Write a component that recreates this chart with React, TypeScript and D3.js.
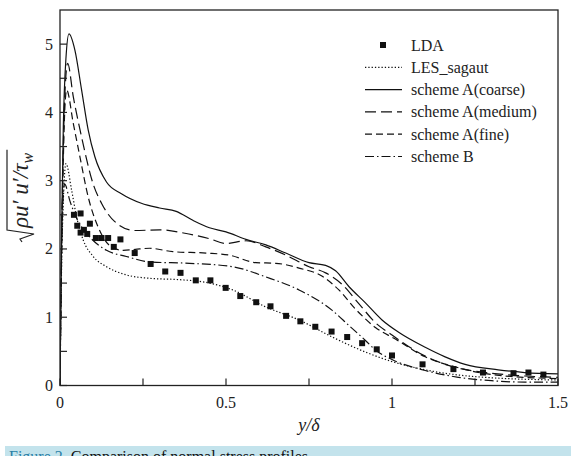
import React, { useEffect, useRef } from "react";
import * as d3 from "d3";

const W = 575;
const H = 456;

const ldaX = [0.042, 0.062, 0.052, 0.062, 0.072, 0.082, 0.09, 0.108, 0.125, 0.145, 0.182, 0.162, 0.225, 0.273, 0.317, 0.363, 0.409, 0.453, 0.499, 0.543, 0.591, 0.634, 0.681, 0.724, 0.769, 0.818, 0.865, 0.91, 0.954, 1.0, 1.092, 1.185, 1.274, 1.366, 1.411, 1.456];
const ldaY = [2.5, 2.52, 2.34, 2.24, 2.28, 2.22, 2.37, 2.16, 2.16, 2.16, 2.14, 2.03, 1.94, 1.78, 1.67, 1.65, 1.54, 1.54, 1.43, 1.31, 1.22, 1.16, 1.02, 0.94, 0.86, 0.79, 0.71, 0.62, 0.53, 0.44, 0.31, 0.24, 0.19, 0.18, 0.19, 0.16];

const lesX = [0, 0.004, 0.01, 0.018, 0.035, 0.05, 0.07, 0.1, 0.14, 0.2, 0.27, 0.36, 0.44, 0.52, 0.62, 0.72, 0.82, 0.92, 1.0, 1.1, 1.25, 1.5];
const lesY = [0, 1.5, 2.7, 3.25, 2.86, 2.47, 2.13, 1.89, 1.74, 1.62, 1.57, 1.55, 1.51, 1.4, 1.15, 0.96, 0.71, 0.49, 0.35, 0.23, 0.13, 0.08];

const coarseX = [0, 0.004, 0.01, 0.018, 0.027, 0.045, 0.065, 0.085, 0.105, 0.14, 0.185, 0.245, 0.3, 0.35, 0.4, 0.45, 0.5, 0.56, 0.62, 0.68, 0.75, 0.8, 0.83, 0.87, 0.92, 0.97, 1.02, 1.1, 1.16, 1.22, 1.32, 1.4, 1.5];
const coarseY = [0, 2.0, 3.8, 4.8, 5.15, 4.91, 4.33, 3.74, 3.35, 2.98, 2.81, 2.67, 2.6, 2.55, 2.42, 2.31, 2.25, 2.14, 2.06, 1.94, 1.8, 1.76, 1.68, 1.45, 1.21, 0.96, 0.78, 0.56, 0.42, 0.31, 0.23, 0.19, 0.17];

const mediumX = [0, 0.004, 0.01, 0.016, 0.023, 0.04, 0.065, 0.1, 0.125, 0.165, 0.225, 0.3, 0.376, 0.45, 0.5, 0.56, 0.62, 0.68, 0.75, 0.8, 0.85, 0.9, 0.95, 1.0, 1.05, 1.1, 1.18, 1.3, 1.5];
const mediumY = [0, 1.8, 3.5, 4.4, 4.72, 4.23, 3.64, 2.95, 2.67, 2.4, 2.27, 2.28, 2.23, 2.15, 2.08, 2.12, 2.03, 1.91, 1.74, 1.65, 1.48, 1.2, 0.92, 0.74, 0.57, 0.43, 0.28, 0.18, 0.12];

const fineX = [0, 0.004, 0.01, 0.015, 0.02, 0.04, 0.06, 0.085, 0.115, 0.155, 0.19, 0.24, 0.27, 0.34, 0.44, 0.51, 0.59, 0.65, 0.72, 0.79, 0.84, 0.89, 0.95, 1.01, 1.1, 1.2, 1.3, 1.5];
const fineY = [0, 1.7, 3.3, 4.1, 4.33, 3.84, 3.35, 2.76, 2.32, 2.03, 1.98, 2.0, 2.01, 1.96, 1.94, 1.91, 1.8, 1.79, 1.72, 1.6, 1.4, 1.12, 0.85, 0.68, 0.42, 0.26, 0.16, 0.1];

const schemeBX = [0, 0.004, 0.008, 0.014, 0.03, 0.05, 0.08, 0.14, 0.2, 0.27, 0.39, 0.52, 0.62, 0.72, 0.82, 0.87, 0.92, 0.95, 1.0, 1.1, 1.2, 1.3, 1.4, 1.5];
const schemeBY = [0, 1.6, 2.6, 2.95, 2.7, 2.45, 2.23, 1.98, 1.89, 1.81, 1.79, 1.74, 1.59, 1.4, 1.1, 0.88, 0.66, 0.52, 0.38, 0.22, 0.12, 0.07, 0.05, 0.05];

const xTicks = [0, 0.5, 1, 1.5];
const xTickLabels = ["0", "0.5", "1", "1.5"];
const xMinor = [0.25, 0.75, 1.25];
const yTicks = [0, 1, 2, 3, 4, 5];
const yMinor = [0.5, 1.5, 2.5, 3.5, 4.5];

const legendLabels = ["LDA", "LES_sagaut", "scheme A(coarse)", "scheme A(medium)", "scheme A(fine)", "scheme B"];

export default function App() {
  const ref = useRef<SVGSVGElement | null>(null);

  useEffect(() => {
    const svg = d3.select(ref.current);
    svg.selectAll("*").remove();

    const left = 60, right = 558, top = 10, bottom = 385.5;
    const x = d3.scaleLinear().domain([0, 1.5]).range([left, right]);
    const y = d3.scaleLinear().domain([0, 5.5]).range([bottom, top]);
    const font = "'Liberation Serif', 'Times New Roman', serif";

    svg.append("rect").attr("width", W).attr("height", H).attr("fill", "white");

    const clip = svg.append("defs").append("clipPath").attr("id", "clip");
    clip.append("rect").attr("x", left).attr("y", top).attr("width", right - left).attr("height", bottom - top);

    const series = [
      { xs: lesX, ys: lesY, dash: "1.3,2" },
      { xs: coarseX, ys: coarseY, dash: null },
      { xs: mediumX, ys: mediumY, dash: "11,5" },
      { xs: fineX, ys: fineY, dash: "7,4" },
      { xs: schemeBX, ys: schemeBY, dash: "9,3,1.5,3" },
    ];

    const line = d3.line<[number, number]>()
      .x((d) => x(d[0]))
      .y((d) => y(d[1]))
      .curve(d3.curveMonotoneX);

    const gLines = svg.append("g").attr("clip-path", "url(#clip)");
    series.forEach((s) => {
      const pts = s.xs.map((v, i) => [v, s.ys[i]] as [number, number]);
      gLines.append("path")
        .attr("d", line(pts))
        .attr("fill", "none")
        .attr("stroke", "#111")
        .attr("stroke-width", 1.2)
        .attr("stroke-dasharray", s.dash);
    });

    // LDA markers
    svg.append("g").selectAll("rect")
      .data(ldaX.map((v, i) => [v, ldaY[i]]))
      .enter().append("rect")
      .attr("x", (d) => x(d[0]) - 3)
      .attr("y", (d) => y(d[1]) - 3)
      .attr("width", 6).attr("height", 6)
      .attr("fill", "#111");

    // frame
    svg.append("rect")
      .attr("x", left).attr("y", top)
      .attr("width", right - left).attr("height", bottom - top)
      .attr("fill", "none").attr("stroke", "#222").attr("stroke-width", 1.3);

    // ticks
    const tickLen = 7;
    const tg = svg.append("g").attr("stroke", "#222").attr("stroke-width", 1.2);
    [...xTicks, ...xMinor].forEach((t) => {
      tg.append("line").attr("x1", x(t)).attr("x2", x(t)).attr("y1", bottom).attr("y2", bottom - tickLen);
    });
    [...yTicks, ...yMinor].forEach((t) => {
      tg.append("line").attr("x1", left).attr("x2", left + tickLen).attr("y1", y(t)).attr("y2", y(t));
    });

    xTicks.forEach((t, i) => {
      svg.append("text").attr("x", x(t)).attr("y", 408)
        .attr("text-anchor", "middle").attr("font-family", font).attr("font-size", 16)
        .attr("fill", "#222").text(xTickLabels[i]);
    });
    yTicks.forEach((t) => {
      svg.append("text").attr("x", 53).attr("y", y(t) + 5.5)
        .attr("text-anchor", "end").attr("font-family", font).attr("font-size", 16)
        .attr("fill", "#222").text(String(t));
    });

    // x label
    svg.append("text").attr("x", (left + right) / 2).attr("y", 431)
      .attr("text-anchor", "middle").attr("font-family", font).attr("font-size", 18)
      .attr("font-style", "italic").attr("fill", "#222").text("y/δ");

    // y label: sqrt(ρu'u')/τ_w rotated
    const yl = svg.append("g").attr("transform", "translate(28,190) rotate(-90)");
    const t = yl.append("text").attr("font-family", font).attr("font-size", 23)
      .attr("font-style", "italic").attr("fill", "#222").attr("x", -38).attr("y", 0);
    t.append("tspan").text("ρu′ u′/τ");
    t.append("tspan").attr("font-size", 16).attr("dy", 5).text("w");
    const tl = (t.node() as SVGTextElement).getComputedTextLength();
    const x0 = -38, x1 = x0 + tl + 3;
    yl.append("path")
      .attr("d", `M${x0 - 14},-6 L${x0 - 11},-8 L${x0 - 6},6 L${x0 - 2},-21 L${x1},-21`)
      .attr("fill", "none").attr("stroke", "#222").attr("stroke-width", 1.2);

    // legend
    const lx0 = 365, lx1 = 402, tx = 411;
    legendLabels.forEach((lab, i) => {
      const cy = 45 + i * 22.3;
      if (i === 0) {
        svg.append("rect").attr("x", 380).attr("y", cy - 3).attr("width", 6).attr("height", 6).attr("fill", "#111");
      } else {
        const s = series[i - 1];
        svg.append("line").attr("x1", lx0).attr("x2", lx1).attr("y1", cy).attr("y2", cy)
          .attr("stroke", "#111").attr("stroke-width", 1.2).attr("stroke-dasharray", s.dash);
      }
      svg.append("text").attr("x", tx).attr("y", cy + 5.5)
        .attr("font-family", font).attr("font-size", 16).attr("fill", "#222").text(lab);
    });

    // caption band
    svg.append("rect").attr("x", 5).attr("y", 446).attr("width", 566).attr("height", 12).attr("fill", "#c3e3ec");
    const cap = svg.append("text").attr("x", 9).attr("y", 462)
      .attr("font-family", font).attr("font-size", 16).attr("fill", "#111");
    cap.append("tspan").attr("fill", "#2a7fa6").text("Figure 2. ");
    cap.append("tspan").text("Comparison of normal stress profiles.");
  }, []);

  return (
    <svg
      ref={ref}
      width={W}
      height={H}
      style={{ position: "absolute", left: 0, top: 0, display: "block" }}
    />
  );
}
